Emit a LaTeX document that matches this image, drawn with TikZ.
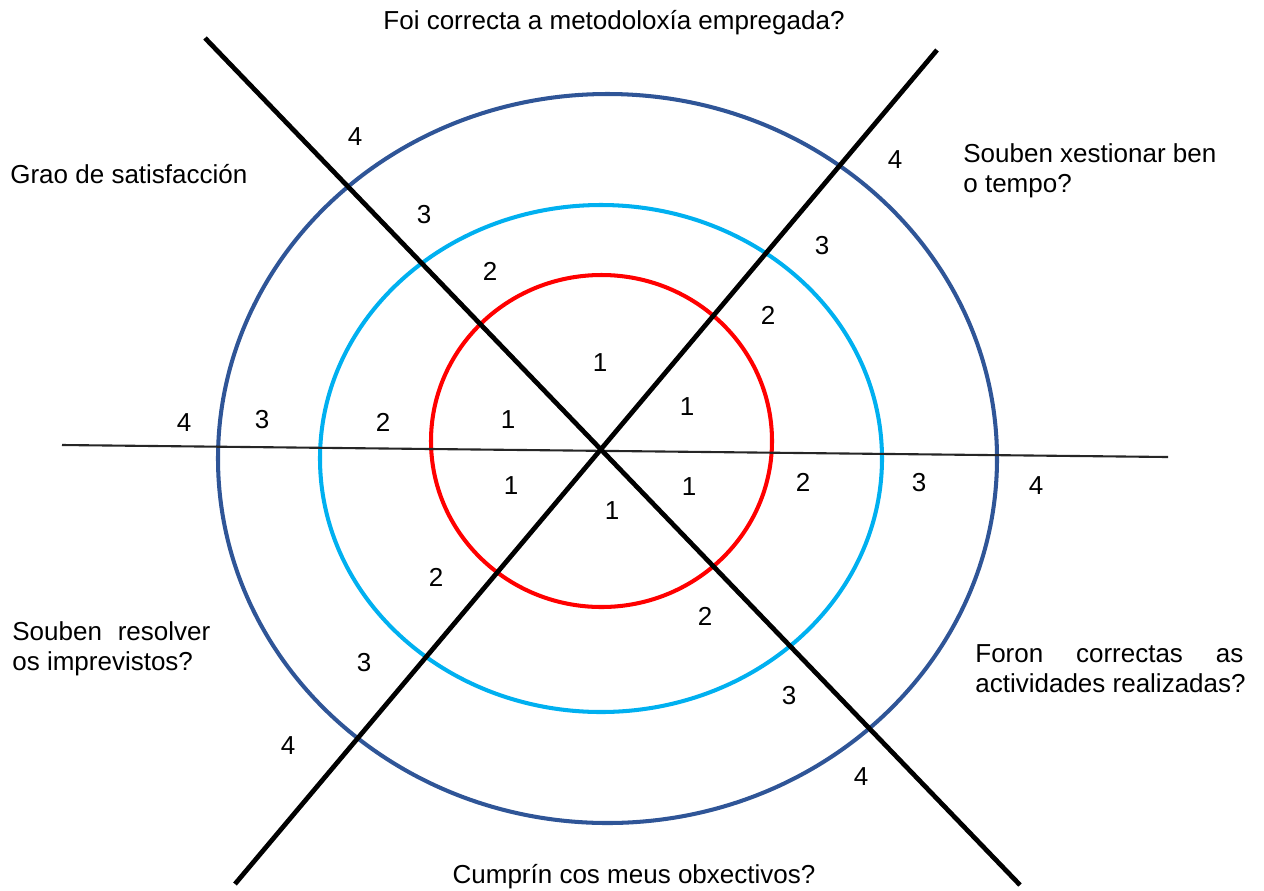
\documentclass[tikz,border=0pt]{standalone}
\usepackage{fontspec}
\setmainfont{Liberation Sans}
\definecolor{ringdark}{HTML}{2F5597}
\definecolor{ringlight}{HTML}{00B0F0}
\definecolor{ringred}{HTML}{FF0000}
\tikzset{
  ring/.style={line width=2.3pt},
  axisline/.style={line width=2.7pt, black},
  txt/.style={inner sep=0pt, font=\fontsize{14.8}{17}\selectfont},
}
\begin{document}
\begin{tikzpicture}[x=0.02cm,y=-0.02cm]
    \useasboundingbox (0,0) rectangle (1264,890);
    % rings
    \draw[ring,ringdark] (607.5,458.5) ellipse (389.5 and 364.5);
    \draw[ring,ringlight] (601,458.5) ellipse (281 and 253.5);
    \draw[ring,ringred] (601.5,441) ellipse (170.5 and 166);
    % axes
    \coordinate (nw) at (205,38);
    \coordinate (se) at (1020,885);
    \coordinate (ne) at (937,50);
    \coordinate (sw) at (235,884);
    \coordinate (w) at (62,445);
    \coordinate (e) at (1168,457);
    \draw[line width=1.2pt, black!85] (w) -- (e);
    \draw[axisline] (nw) -- (se);
    \draw[axisline] (ne) -- (sw);
    % questions (base = last line)
    \node[txt, anchor=base] (q1) at (614,29) {Foi correcta a metodoloxía empregada?};
    \node[txt, anchor=base west] (q2) at (10,183) {Grao de satisfacción};
    \node[txt, anchor=base west, align=left] (q3) at (963,192) {Souben xestionar ben\\o tempo?};
    \node[txt, anchor=base west, align=left] (q4) at (12,670) {\hbox to 3.96cm{Souben\hfill resolver}\\os imprevistos?};
    \node[txt, anchor=base west, align=left] (q5) at (975,692) {\hbox to 5.36cm{Foron\hfill correctas\hfill as}\\actividades realizadas?};
    \node[txt, anchor=base] (q6) at (634,883) {Cumprín cos meus obxectivos?};
    % scores
    \foreach \n/\x/\y [count=\i] in {4/355/137, 3/424/215, 2/490/271,
        1/600/363, 1/687/407, 1/508/420, 1/511/486, 1/612/511, 1/689/487,
        4/184/423, 3/262/420, 2/383/422,
        2/803/482, 3/919/483, 4/1036/486,
        4/895/160, 3/822/246, 2/768/315,
        2/436/577, 3/364/663, 4/288/746,
        2/705/616, 3/789/696, 4/861/777}
    \node[txt] (s\i) at (\x,\y) {\n};
\end{tikzpicture}
\end{document}
